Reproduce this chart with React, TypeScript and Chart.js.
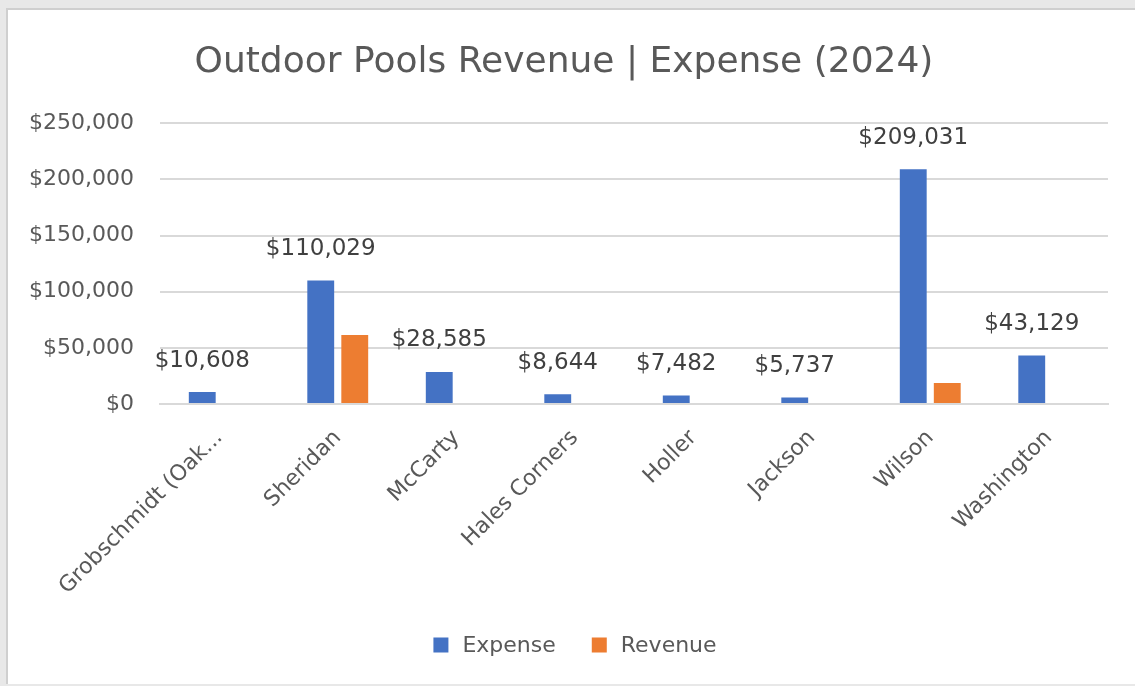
import React, { useEffect, useRef } from "react";
import { Chart, registerables } from "chart.js";

Chart.register(...registerables);

const categories = [
  "Grobschmidt (Oak...",
  "Sheridan",
  "McCarty",
  "Hales Corners",
  "Holler",
  "Jackson",
  "Wilson",
  "Washington",
];
const expense = [10608, 110029, 28585, 8644, 7482, 5737, 209031, 43129];
const revenue = [0, 61500, 0, 0, 0, 0, 18700, 0];
const seriesNames = ["Expense", "Revenue"];
const seriesColors = ["#4472C4", "#ED7D31"];
const titleText = "Outdoor Pools Revenue | Expense (2024)";
const yMax = 250000;
const yStep = 50000;

const FONT = "'DejaVu Sans', 'Open Sans', sans-serif";
const fmt = (v: number) => "$" + Math.round(v).toLocaleString("en-US");

const labelPlugin = {
  id: "expenseLabels",
  afterDatasetsDraw(chart: any) {
    const ctx = chart.ctx;
    const meta = chart.getDatasetMeta(0);
    ctx.save();
    ctx.font = `23px ${FONT}`;
    ctx.fillStyle = "#404040";
    ctx.textAlign = "center";
    ctx.textBaseline = "bottom";
    meta.data.forEach((bar: any, i: number) => {
      ctx.fillText(fmt(expense[i]), bar.x, bar.y - 20);
    });
    ctx.restore();
  },
};

const legendPlugin = {
  id: "bottomLegend",
  afterDraw(chart: any) {
    const ctx = chart.ctx;
    ctx.save();
    ctx.font = `22px ${FONT}`;
    ctx.textBaseline = "middle";
    ctx.textAlign = "left";
    const box = 15;
    const gapText = 14;
    const gapItem = 36;
    const widths = chart.data.datasets.map((d: any) => ctx.measureText(d.label).width);
    const total =
      widths.reduce((s: number, w: number) => s + box + gapText + w, 0) + gapItem * (widths.length - 1);
    let x = 575 - total / 2;
    const cy = 645;
    chart.data.datasets.forEach((d: any, i: number) => {
      ctx.fillStyle = d.backgroundColor;
      ctx.fillRect(x, cy - box / 2, box, box);
      ctx.fillStyle = "#595959";
      ctx.fillText(d.label, x + box + gapText, cy + 1);
      x += box + gapText + widths[i] + gapItem;
    });
    ctx.restore();
  },
};

export default function App() {
  const ref = useRef<HTMLCanvasElement | null>(null);

  useEffect(() => {
    if (!ref.current) return;
    const chart = new Chart(ref.current, {
      type: "bar",
      data: {
        labels: categories,
        datasets: [
          {
            label: seriesNames[0],
            data: expense,
            backgroundColor: seriesColors[0],
            categoryPercentage: 0.574,
            barPercentage: 0.79,
          },
          {
            label: seriesNames[1],
            data: revenue,
            backgroundColor: seriesColors[1],
            categoryPercentage: 0.574,
            barPercentage: 0.79,
          },
        ],
      },
      options: {
        animation: false,
        responsive: false,
        devicePixelRatio: 1,
        layout: { padding: { left: 20, right: 27, top: 20, bottom: 19 } },
        plugins: {
          title: {
            display: true,
            text: titleText,
            color: "#595959",
            font: { family: FONT, size: 36, weight: "normal" },
            padding: { top: 21, bottom: 39 },
          },
          legend: { display: false },
          tooltip: { enabled: false },
        },
        scales: {
          x: {
            grid: { display: false, drawTicks: false },
            border: { display: true, color: "#d9d9d9", width: 2 },
            ticks: {
              color: "#595959",
              font: { family: FONT, size: 22 },
              maxRotation: 45,
              minRotation: 45,
              padding: 21,
              labelOffset: 0,
              autoSkip: false,
            },
            afterFit: (scale: any) => {
              scale.height = 263;
            },
          },
          y: {
            min: 0,
            max: yMax,
            grid: { color: "#d9d9d9", lineWidth: 2, drawTicks: false },
            border: { display: false },
            ticks: {
              stepSize: yStep,
              color: "#595959",
              font: { family: FONT, size: 22 },
              padding: 26,
              callback: (v: any) => fmt(Number(v)),
            },
            afterFit: (scale: any) => {
              scale.width = 140;
            },
          },
        },
      },
      plugins: [labelPlugin, legendPlugin],
    });
    return () => chart.destroy();
  }, []);

  return (
    <div style={{ position: "fixed", left: 0, top: 0, width: 1135, height: 686, background: "#e8e8e8" }}>
      <div
        style={{
          position: "absolute",
          left: 6,
          top: 8,
          width: 1129,
          height: 676,
          background: "#ffffff",
          borderLeft: "2px solid #cfcfcf",
          borderTop: "2px solid #cfcfcf",
          boxSizing: "border-box",
        }}
      />
      <canvas ref={ref} width={1135} height={686} style={{ position: "absolute", left: 0, top: 0 }} />
    </div>
  );
}
